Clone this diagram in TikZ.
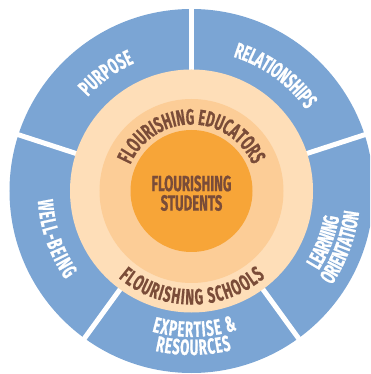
\documentclass[tikz,border=0pt]{standalone}
\usepackage{fontspec}
\usetikzlibrary{decorations.text}
\newfontfamily\labA{Fira Sans}[FakeStretch=0.6,FakeBold=0.6]
\newcommand\fA{\labA\bfseries\fontsize{22}{22}\selectfont}
\definecolor{segblue}{RGB}{123,165,212}
\definecolor{peachA}{RGB}{254,222,184}
\definecolor{peachB}{RGB}{252,205,151}
\definecolor{orangeC}{RGB}{247,165,56}
\definecolor{brownT}{RGB}{122,76,56}
\begin{document}
\begin{tikzpicture}[x=1pt,y=1pt,
  gapline/.style={white,line width=5pt},
  disc/.style={circle,inner sep=0pt,draw=none}]
\useasboundingbox (-191.5,-183) rectangle (178.5,191);
\clip (-191.5,-183) rectangle (178.5,191);
\node[disc,fill=segblue,minimum size=364pt] (ring) at (0,0) {};
\foreach \a in {18,90,162,234,306} \draw[gapline] (\a:100) -- (\a:200);
\node[disc,fill=peachA,minimum size=243pt] (schools) at (0,0) {};
\node[disc,fill=peachB,minimum size=184pt] (educators) at (0,0) {};
\node[disc,fill=orangeC,minimum size=122pt] (core) at (0,0) {};
\node[text=brownT,align=center,font=\labA\bfseries\fontsize{22}{19.5}\selectfont,inner sep=0pt] (students) at (0,-2.25) {FLOURISHING\\STUDENTS};
% curved texts in the rings
\path[decorate,decoration={text along path,text align=center,text color=brownT,
  text={|\fA|FLOURISHING EDUCATORS}}] (170:66.5) arc[start angle=170,end angle=10,radius=66.5];
\path[decorate,decoration={text along path,text align=center,text color=brownT,
  text={|\fA\kern1.1pt|FLOURISHING SCHOOLS}}] (200:113.5) arc[start angle=200,end angle=340,radius=113.5];
% labels in the blue segments
\path[decorate,decoration={text along path,text align=center,text color=white,
  text={|\fA\kern0.3pt|PURPOSE}}] (166:140) arc[start angle=166,end angle=86,radius=140];
\path[decorate,decoration={text along path,text align=center,text color=white,
  text={|\fA\kern-0.2pt|RELATIONSHIPS}}] (104:140.5) arc[start angle=104,end angle=4,radius=140.5];
\path[decorate,decoration={text along path,text align=center,text color=white,
  text={|\fA\kern1.3pt|WELL-BEING}}] (149:154) arc[start angle=149,end angle=249,radius=154];
\path[decorate,decoration={text along path,text align=center,text color=white,
  text={|\fA\kern1pt|EXPERTISE {\&}}}] (231:146) arc[start angle=231,end angle=311,radius=146];
\path[decorate,decoration={text along path,text align=center,text color=white,
  text={|\fA\kern0.8pt|RESOURCES}}] (230.5:164) arc[start angle=230.5,end angle=310.5,radius=164];
\path[decorate,decoration={text along path,text align=center,text color=white,
  text={|\fA\kern-0.3pt|LEARNING}}] (299:150) arc[start angle=299,end angle=379,radius=150];
\path[decorate,decoration={text along path,text align=center,text color=white,
  text={|\fA\kern-0.2pt|ORIENTATION}}] (299.5:169) arc[start angle=299.5,end angle=379.5,radius=169];
\end{tikzpicture}
\end{document}
